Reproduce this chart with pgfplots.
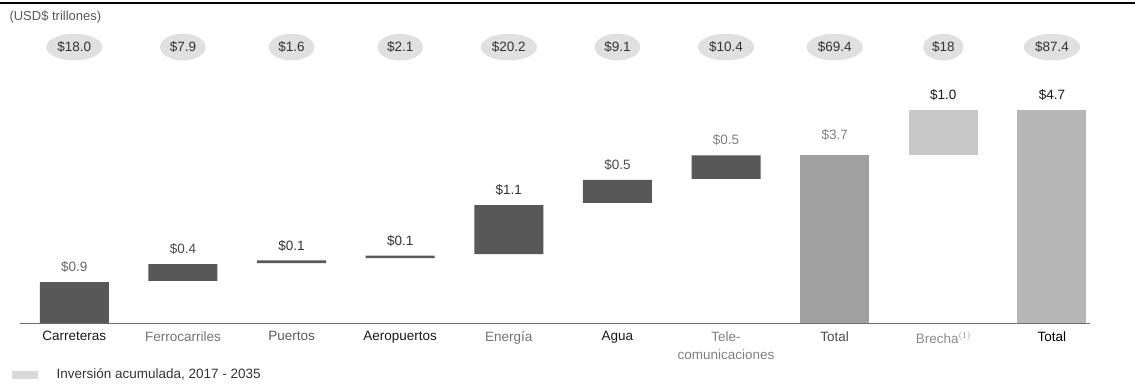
\documentclass[border=0pt]{standalone}
\usepackage{fontspec}
\setmainfont{Liberation Sans}
\usepackage{pgfplots}
\pgfplotsset{compat=1.18}
\usetikzlibrary{shapes.geometric}

\definecolor{bardark}{RGB}{88,88,88}
\definecolor{bartotal}{RGB}{160,160,160}
\definecolor{barbrecha}{RGB}{200,200,200}
\definecolor{bartotaltwo}{RGB}{182,182,182}
\definecolor{bubble}{RGB}{224,224,224}
\definecolor{basegray}{RGB}{110,110,110}

\tikzset{
  val/.style={anchor=south, font=\fontsize{13.5}{15}\selectfont, yshift=6pt},
  bub/.style={ellipse, fill=bubble, inner xsep=3pt, inner ysep=4pt, text=black!80, font=\fontsize{13.5}{15}\selectfont}
}

\begin{document}
\begin{tikzpicture}
\begin{axis}[
  at={(0,0)}, anchor=south west,
  scale only axis,
  width=1070pt, height=323pt,
  xmin=-0.5, xmax=9.35,
  ymin=0, ymax=7.13,
  ybar stacked,
  bar width=69pt,
  axis x line*=bottom,
  axis y line=none,
  x axis line style={basegray, line width=0.8pt},
  xtick={0,...,9},
  major tick length=0pt,
  xticklabels={
    Carreteras,
    \textcolor{black!55}{Ferrocarriles},
    \textcolor{black!65}{Puertos},
    Aeropuertos,
    \textcolor{black!55}{Energía},
    Agua,
    {\color{black!50}Tele-}\\{\color{black!50}comunicaciones},
    \textcolor{black!70}{Total},
    \textcolor{black!45}{Brecha$^{(1)}$},
    \textcolor{black}{Total}
  },
  xticklabel style={font=\fontsize{13.5}{18}\selectfont, align=center, text=black!90, yshift=-5pt},
  clip=false,
]
% invisible base of the floating bars
\addplot [draw=none, fill=none] coordinates {
(0,0) (1,0.93) (2,1.32) (3,1.43) (4,1.52) (5,2.65) (6,3.18) (7,0) (8,3.7) (9,0)
};
% yearly segments
\addplot [draw=none, fill=bardark] coordinates {
(0,0.9) (1,0.37) (2,0.06) (3,0.06) (4,1.08) (5,0.51) (6,0.52) (7,0) (8,0) (9,0)
};
\addplot [draw=none, fill=bartotal] coordinates {
(0,0) (1,0) (2,0) (3,0) (4,0) (5,0) (6,0) (7,3.7) (8,0) (9,0)
};
\addplot [draw=none, fill=barbrecha] coordinates {
(0,0) (1,0) (2,0) (3,0) (4,0) (5,0) (6,0) (7,0) (8,1.0) (9,0)
};
\addplot [draw=none, fill=bartotaltwo] coordinates {
(0,0) (1,0) (2,0) (3,0) (4,0) (5,0) (6,0) (7,0) (8,0) (9,4.7)
};

% values over the bars
\node[val, text=black!60] at (axis cs:0,0.9) {\$0.9};
\node[val, text=black!70] at (axis cs:1,1.30) {\$0.4};
\node[val, text=black!80] at (axis cs:2,1.38) {\$0.1};
\node[val, text=black!80] at (axis cs:3,1.49) {\$0.1};
\node[val, text=black!80] at (axis cs:4,2.60) {\$1.1};
\node[val, text=black!70] at (axis cs:5,3.16) {\$0.5};
\node[val, text=black!50] at (axis cs:6,3.70) {\$0.5};
\node[val, text=black!50, yshift=5pt] at (axis cs:7,3.70) {\$3.7};
\node[val, text=black!90] at (axis cs:8,4.70) {\$1.0};
\node[val, text=black!90] at (axis cs:9,4.70) {\$4.7};

% cumulative investment bubbles
\node[bub] at (axis cs:0,6.09) {\$18.0};
\node[bub] at (axis cs:1,6.09) {\$7.9};
\node[bub] at (axis cs:2,6.09) {\$1.6};
\node[bub] at (axis cs:3,6.09) {\$2.1};
\node[bub] at (axis cs:4,6.09) {\$20.2};
\node[bub] at (axis cs:5,6.09) {\$9.1};
\node[bub] at (axis cs:6,6.09) {\$10.4};
\node[bub] at (axis cs:7,6.09) {\$69.4};
\node[bub] at (axis cs:8,6.09) {\$18};
\node[bub] at (axis cs:9,6.09) {\$87.4};
\end{axis}

% frame: top rule, unit note, legend
\draw[black, line width=1.6pt] (-20pt,320pt) -- (1115pt,320pt);
\node[anchor=west, text=black!65, font=\fontsize{13}{14}\selectfont] at (-14pt,306pt) {(USD\$ trillones)};
\fill[black!15] (-8pt,-48pt) rectangle (18pt,-56pt);
\node[anchor=west, text=black!80, font=\fontsize{13.5}{15}\selectfont] at (33pt,-51pt) {Inversión acumulada, 2017 - 2035};

\pgfresetboundingbox
\path[use as bounding box] (-20pt,-60pt) rectangle (1115pt,323pt);
\end{tikzpicture}
\end{document}
